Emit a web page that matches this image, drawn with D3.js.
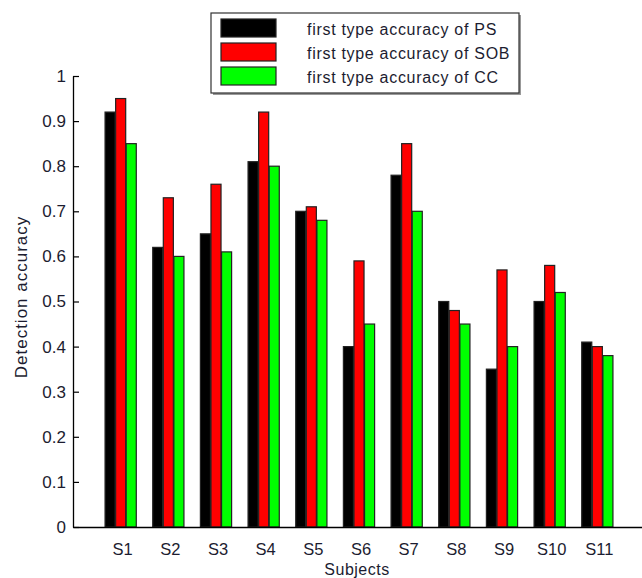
<!DOCTYPE html>
<html>
<head>
<meta charset="utf-8">
<script src="https://cdn.jsdelivr.net/npm/d3@7/dist/d3.min.js"></script>
<style>
  html, body { margin: 0; padding: 0; background: #fff; }
  svg { display: block; }
  text { font-family: "Liberation Sans", Arial, sans-serif; fill: #1c1c30; }
</style>
</head>
<body>
<svg id="chart" width="642" height="578"></svg>
<script>
// Subjects and per-method detection accuracy
const subjects = ["S1", "S2", "S3", "S4", "S5", "S6", "S7", "S8", "S9", "S10", "S11"];
const psAccuracy  = [0.92, 0.62, 0.65, 0.81, 0.70, 0.40, 0.78, 0.50, 0.35, 0.50, 0.41];
const sobAccuracy = [0.95, 0.73, 0.76, 0.92, 0.71, 0.59, 0.85, 0.48, 0.57, 0.58, 0.40];
const ccAccuracy  = [0.85, 0.60, 0.61, 0.80, 0.68, 0.45, 0.70, 0.45, 0.40, 0.52, 0.38];
const seriesNames = ["first type accuracy of PS", "first type accuracy of SOB", "first type accuracy of CC"];
const seriesColors = ["#000000", "#ff0000", "#00ff00"];
const yTicks = [0, 0.1, 0.2, 0.3, 0.4, 0.5, 0.6, 0.7, 0.8, 0.9, 1];

const series = [psAccuracy, sobAccuracy, ccAccuracy];

const svg = d3.select("#chart");
const plotLeft = 73, plotBottom = 527, plotTop = 76, plotRight = 645;

// Subject k sits at x = k on a 0..12 axis
const x = d3.scaleLinear().domain([0, 12]).range([plotLeft, plotRight]);
const y = d3.scaleLinear().domain([0, 1]).range([plotBottom, plotTop]);

const unit = x(1) - x(0);
const barStep = unit * 0.222;
const barW = barStep * 0.95;

// Bars
series.forEach((vals, si) => {
  const off = (si - 1) * barStep;
  svg.append("g")
    .selectAll("rect")
    .data(vals)
    .join("rect")
    .attr("x", (d, i) => x(i + 1) + off - barW / 2)
    .attr("y", d => y(d))
    .attr("width", barW)
    .attr("height", d => y(0) - y(d))
    .attr("fill", seriesColors[si])
    .attr("stroke", "#222")
    .attr("stroke-width", 1.2);
});

// Y axis (inward ticks)
const yAxis = d3.axisLeft(y).tickValues(yTicks).tickSizeInner(-6).tickSizeOuter(0)
  .tickPadding(7).tickFormat(d => d === 0 || d === 1 ? String(d) : d3.format(".1f")(d));
const gy = svg.append("g").attr("transform", `translate(${plotLeft},0)`).call(yAxis);
gy.select(".domain").attr("stroke", "#000").attr("stroke-width", 1.3);
gy.selectAll(".tick line").attr("stroke", "#000").attr("stroke-width", 1.2);
gy.selectAll(".tick text").style("font-size", "17px").attr("fill", "#1c1c30")
  .style("font-family", "'Liberation Sans', Arial, sans-serif");

// X axis
const xAxis = d3.axisBottom(x).tickValues(d3.range(1, subjects.length + 1))
  .tickFormat(d => subjects[d - 1]).tickSize(0).tickPadding(16);
const gx = svg.append("g").attr("transform", `translate(0,${plotBottom})`).call(xAxis);
gx.select(".domain").attr("stroke", "#000").attr("stroke-width", 1.3);
gx.selectAll(".tick text").style("font-size", "16.5px").attr("fill", "#1c1c30")
  .attr("dx", 1.5)
  .style("font-family", "'Liberation Sans', Arial, sans-serif");

// Axis titles
svg.append("text")
  .attr("x", 357).attr("y", 575)
  .attr("text-anchor", "middle").style("font-size", "16px").style("letter-spacing", "0.5px")
  .text("Subjects");
svg.append("text")
  .attr("transform", "translate(27,297) rotate(-90)")
  .attr("text-anchor", "middle").style("font-size", "17px").style("letter-spacing", "1px")
  .text("Detection accuracy");

// Legend
const lg = svg.append("g").attr("transform", "translate(211,13)");
lg.append("rect").attr("x", 2).attr("y", 2).attr("width", 308).attr("height", 80)
  .attr("fill", "#999");
lg.append("rect").attr("x", 0).attr("y", 0).attr("width", 308).attr("height", 80)
  .attr("fill", "#fff").attr("stroke", "#333").attr("stroke-width", 1.2);
seriesNames.forEach((name, i) => {
  const row = lg.append("g").attr("transform", `translate(0,${6 + i * 24})`);
  row.append("rect").attr("x", 10).attr("y", 0).attr("width", 55).attr("height", 18)
    .attr("fill", seriesColors[i]).attr("stroke", "#222").attr("stroke-width", 1.2);
  row.append("text").attr("x", 96).attr("y", 16).style("font-size", "16px")
    .style("letter-spacing", "0.7px").text(name);
});
</script>
</body>
</html>
